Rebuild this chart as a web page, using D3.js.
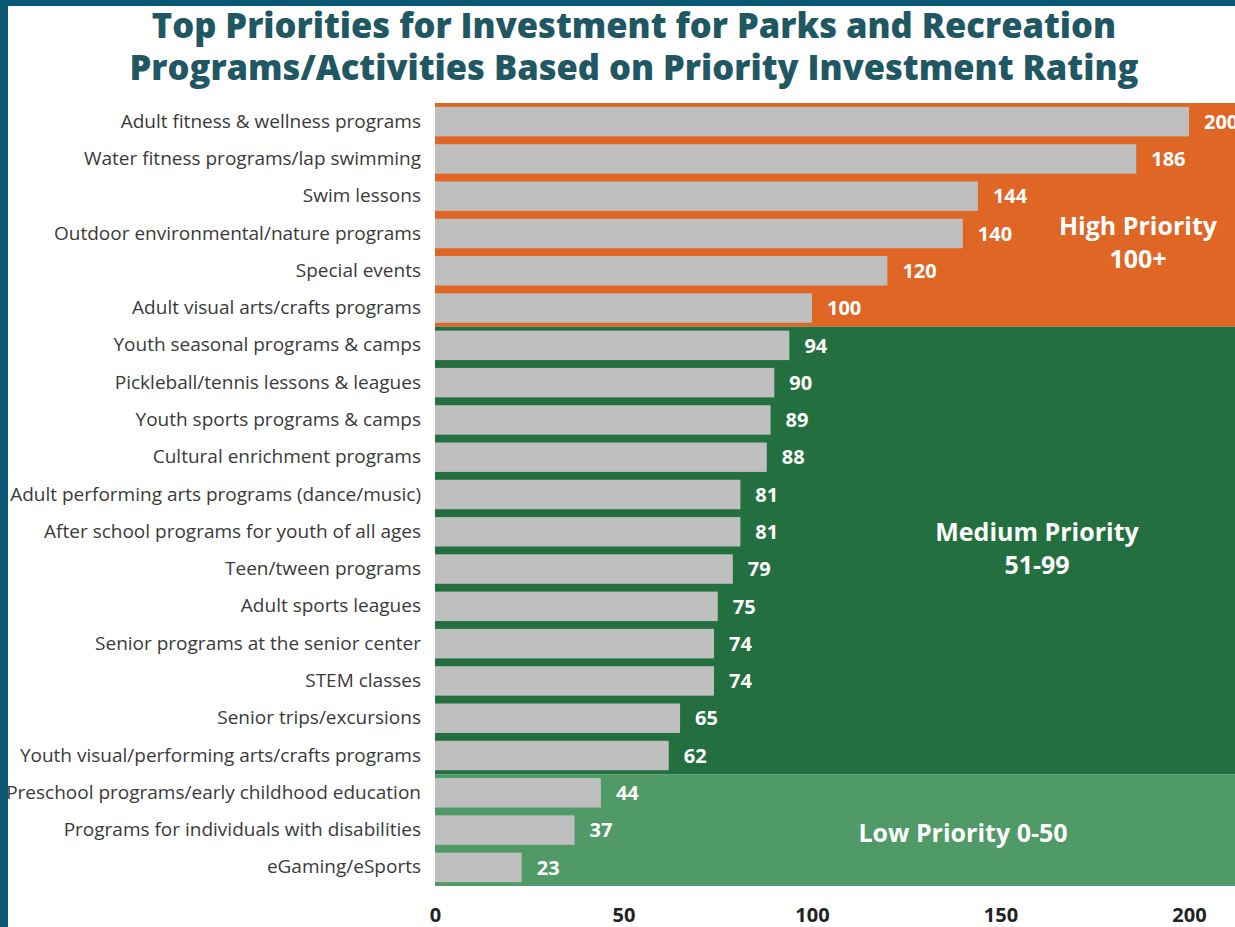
<!DOCTYPE html>
<html>
<head>
<meta charset="utf-8">
<script src="https://cdn.jsdelivr.net/npm/d3@7"></script>
<style>
  html, body { margin: 0; padding: 0; background: #0b5874; }
  svg { display: block; }
</style>
</head>
<body>
<svg id="chart" width="1235" height="927"></svg>
<script>
// Program categories, ranked by Priority Investment Rating
const categories = [
  "Adult fitness & wellness programs",
  "Water fitness programs/lap swimming",
  "Swim lessons",
  "Outdoor environmental/nature programs",
  "Special events",
  "Adult visual arts/crafts programs",
  "Youth seasonal programs & camps",
  "Pickleball/tennis lessons & leagues",
  "Youth sports programs & camps",
  "Cultural enrichment programs",
  "Adult performing arts programs (dance/music)",
  "After school programs for youth of all ages",
  "Teen/tween programs",
  "Adult sports leagues",
  "Senior programs at the senior center",
  "STEM classes",
  "Senior trips/excursions",
  "Youth visual/performing arts/crafts programs",
  "Preschool programs/early childhood education",
  "Programs for individuals with disabilities",
  "eGaming/eSports"
];
const ratings = [200, 186, 144, 140, 120, 100, 94, 90, 89, 88, 81, 81, 79, 75, 74, 74, 65, 62, 44, 37, 23];
const tickValues = [0, 50, 100, 150, 200];

// Priority tiers: first/last category of each tier
const tierNames = ["High Priority", "Medium Priority", "Low Priority"];
const tierFirst = [0, 6, 18];
const tierLast = [5, 17, 20];
const tierLabels = [["High Priority", "100+"], ["Medium Priority", "51-99"], ["Low Priority 0-50"]];
const tierColors = ["#e06626", "#246f40", "#4f9a66"];

const svg = d3.select("#chart");
const W = 1235, H = 927;

// white panel inside the frame
svg.append("rect").attr("x", 8).attr("y", 6).attr("width", W - 8).attr("height", H - 6).attr("fill", "#ffffff");

// title
const title = svg.append("text")
  .attr("text-anchor", "middle")
  .attr("font-family", "'Open Sans', sans-serif")
  .attr("font-weight", 800)
  .attr("font-size", 34.5)
  .attr("fill", "#1f5763");
title.append("tspan").attr("x", 634).attr("y", 38).text("Top Priorities for Investment for Parks and Recreation");
title.append("tspan").attr("x", 634).attr("y", 80).text("Programs/Activities Based on Priority Investment Rating");

const x = d3.scaleLinear().domain([0, 200]).range([435, 1189]);
const y = d3.scaleBand().domain(categories).range([103, 886]).paddingInner(0.21).paddingOuter(0.105);
const step = y.step();
const top0 = 103;

// tier backgrounds
tierNames.forEach((t, i) => {
  const y0 = top0 + tierFirst[i] * step;
  const y1 = top0 + (tierLast[i] + 1) * step;
  svg.append("rect")
    .attr("x", x(0)).attr("y", y0)
    .attr("width", W - x(0)).attr("height", y1 - y0)
    .attr("fill", tierColors[i]);
});

// bars
svg.append("g").selectAll("rect").data(categories).join("rect")
  .attr("x", x(0))
  .attr("y", d => y(d))
  .attr("width", (d, i) => x(ratings[i]) - x(0))
  .attr("height", y.bandwidth())
  .attr("fill", "#bfbfbf");

// value labels
svg.append("g").selectAll("text").data(categories).join("text")
  .attr("x", (d, i) => x(ratings[i]) + 15)
  .attr("y", d => y(d) + y.bandwidth() / 2)
  .attr("dy", "0.36em")
  .attr("font-family", "'Open Sans', sans-serif")
  .attr("font-weight", 700)
  .attr("font-size", 20)
  .attr("fill", "#ffffff")
  .text((d, i) => ratings[i]);

// category axis
const yAxis = svg.append("g")
  .attr("transform", `translate(${x(0)},0)`)
  .call(d3.axisLeft(y).tickSize(0).tickPadding(14));
yAxis.select(".domain").remove();
yAxis.selectAll("text")
  .attr("font-family", "'Open Sans', sans-serif")
  .attr("font-size", 19)
  .attr("fill", "#3a3a3a");

// value axis
const xAxis = svg.append("g")
  .attr("transform", `translate(0,886)`)
  .call(d3.axisBottom(x).tickValues(tickValues).tickSize(0).tickPadding(22));
xAxis.select(".domain").remove();
xAxis.selectAll("text")
  .attr("font-family", "'Open Sans', sans-serif")
  .attr("font-weight", 700)
  .attr("font-size", 20)
  .attr("fill", "#222222");

// tier captions
const capX = [1138, 1037, 963];
const capY = [235, 541, 842];
tierLabels.forEach((lines, i) => {
  const t = svg.append("text")
    .attr("text-anchor", "middle")
    .attr("font-family", "'Open Sans', sans-serif")
    .attr("font-weight", 700)
    .attr("font-size", 25)
    .attr("fill", "#ffffff");
  lines.forEach((ln, j) => {
    t.append("tspan").attr("x", capX[i]).attr("y", capY[i] + j * 33).text(ln);
  });
});
</script>
</body>
</html>
